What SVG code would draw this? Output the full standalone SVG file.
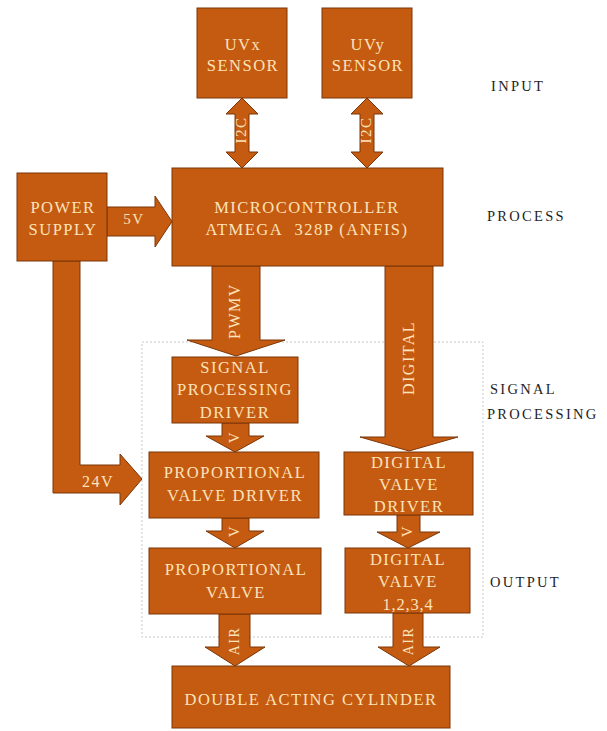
<svg xmlns="http://www.w3.org/2000/svg" width="607" height="731" viewBox="0 0 607 731">
<style>
.blk{fill:#c55a11;stroke:#7a3608;stroke-width:1}
.t{font-family:"Liberation Serif","Times New Roman",serif;font-size:16.5px;letter-spacing:1.5px;fill:#fce3ba;text-anchor:middle}
.c{font-family:"Liberation Serif","Times New Roman",serif;font-size:15px;letter-spacing:1.5px;fill:#fce3ba;text-anchor:middle;dominant-baseline:central}
.side{font-family:"Liberation Serif","Times New Roman",serif;font-size:14.5px;letter-spacing:2.3px;fill:#1e1e1e}
.region{fill:none;stroke:#c8c8c8;stroke-width:1;stroke-dasharray:2 2}
</style>
<rect width="607" height="731" fill="#ffffff"/>
<g id="region-signal-processing"><rect class="region" x="142" y="342" width="341" height="295"/></g>

<g id="connectors">
<path class="blk" d="M242,98 L258,114 L249,114 L249,152 L258,152 L242,168 L226,152 L235,152 L235,114 L226,114 Z"/>
<text class="c" transform="rotate(-90 241 130)" x="241" y="130">I2C</text>
<path class="blk" d="M367,98 L383,114 L374,114 L374,152 L383,152 L367,168 L351,152 L360,152 L360,114 L351,114 Z"/>
<text class="c" transform="rotate(-90 366 130)" x="366" y="130">I2C</text>
<path class="blk" d="M107,207 L155,207 L155,196 L172,221.5 L155,247 L155,236 L107,236 Z"/>
<text class="c" x="134" y="219">5V</text>
<path class="blk" d="M53,261 L80,261 L80,465 L120,465 L120,454 L142,479 L120,505 L120,493 L53,493 Z"/>
<text class="c" style="font-size:16px" x="98" y="481">24V</text>
<path class="blk" d="M212,266 L260,266 L260,340 L285,340 L236,356 L187,340 L212,340 Z"/>
<text class="c" style="font-size:16px" transform="rotate(-90 234 311)" x="234" y="311">PWMV</text>
<path class="blk" d="M385,266 L433,266 L433,437 L458,437 L409,451 L360,437 L385,437 Z"/>
<text class="c" style="font-size:16px" transform="rotate(-90 408 358)" x="408" y="358">DIGITAL</text>
<path class="blk" d="M222,423 L249,423 L249,436 L264,436 L235,452 L206,436 L222,436 Z"/>
<text class="c" transform="rotate(-90 234 437)" x="234" y="437">V</text>
<path class="blk" d="M222,518 L249,518 L249,531 L264,531 L235,548 L206,531 L222,531 Z"/>
<text class="c" transform="rotate(-90 234 531)" x="234" y="531">V</text>
<path class="blk" d="M397,515 L420,515 L420,532 L440,532 L408,548 L377,532 L397,532 Z"/>
<text class="c" transform="rotate(-90 407 531)" x="407" y="531">V</text>
<path class="blk" d="M219,614 L250,614 L250,647 L265,647 L235,666 L205,647 L219,647 Z"/>
<text class="c" style="font-size:14px" transform="rotate(-90 234 641)" x="234" y="641">AIR</text>
<path class="blk" d="M393,613 L423,613 L423,647 L440,647 L409,666 L378,647 L393,647 Z"/>
<text class="c" style="font-size:14px" transform="rotate(-90 408 641)" x="408" y="641">AIR</text>
</g>

<g id="uvx-sensor"><rect class="blk" x="197" y="8" width="90" height="90"/>
<text class="t" x="243" y="50">UVx</text><text class="t" x="243" y="71">SENSOR</text></g>
<g id="uvy-sensor"><rect class="blk" x="322" y="8" width="90" height="90"/>
<text class="t" x="368" y="50">UVy</text><text class="t" x="368" y="71">SENSOR</text></g>
<g id="power-supply"><rect class="blk" x="17" y="173" width="90" height="88"/>
<text class="t" x="63" y="213">POWER</text><text class="t" x="63" y="235">SUPPLY</text></g>
<g id="microcontroller"><rect class="blk" x="172" y="168" width="271" height="98"/>
<text class="t" x="307" y="213">MICROCONTROLLER</text><text class="t" x="307" y="235">ATMEGA&#160; 328P (ANFIS)</text></g>
<g id="signal-processing-driver"><rect class="blk" x="172" y="357" width="126" height="66"/>
<text class="t" x="235" y="373">SIGNAL</text><text class="t" x="235" y="395">PROCESSING</text><text class="t" x="235" y="418">DRIVER</text></g>
<g id="proportional-valve-driver"><rect class="blk" x="149" y="452" width="170" height="66"/>
<text class="t" x="235" y="478">PROPORTIONAL</text><text class="t" x="235" y="501">VALVE DRIVER</text></g>
<g id="digital-valve-driver"><rect class="blk" x="344" y="452" width="129" height="63"/>
<text class="t" x="409" y="468">DIGITAL</text><text class="t" x="409" y="490">VALVE</text><text class="t" x="409" y="512">DRIVER</text></g>
<g id="proportional-valve"><rect class="blk" x="149" y="548" width="172" height="66"/>
<text class="t" x="236" y="575">PROPORTIONAL</text><text class="t" x="236" y="598">VALVE</text></g>
<g id="digital-valve"><rect class="blk" x="345" y="548" width="125" height="65"/>
<text class="t" x="408" y="565">DIGITAL</text><text class="t" x="408" y="587">VALVE</text><text class="t" x="408" y="610" style="letter-spacing:0.8px">1,2,3,4</text></g>
<g id="double-acting-cylinder"><rect class="blk" x="172" y="666" width="278" height="62"/>
<text class="t" x="311" y="705">DOUBLE ACTING CYLINDER</text></g>

<g id="stage-labels">
<text class="side" x="491" y="91">INPUT</text>
<text class="side" x="487" y="221">PROCESS</text>
<text class="side" x="490" y="394">SIGNAL</text>
<text class="side" x="487" y="419">PROCESSING</text>
<text class="side" x="490" y="587">OUTPUT</text>
</g>
</svg>
